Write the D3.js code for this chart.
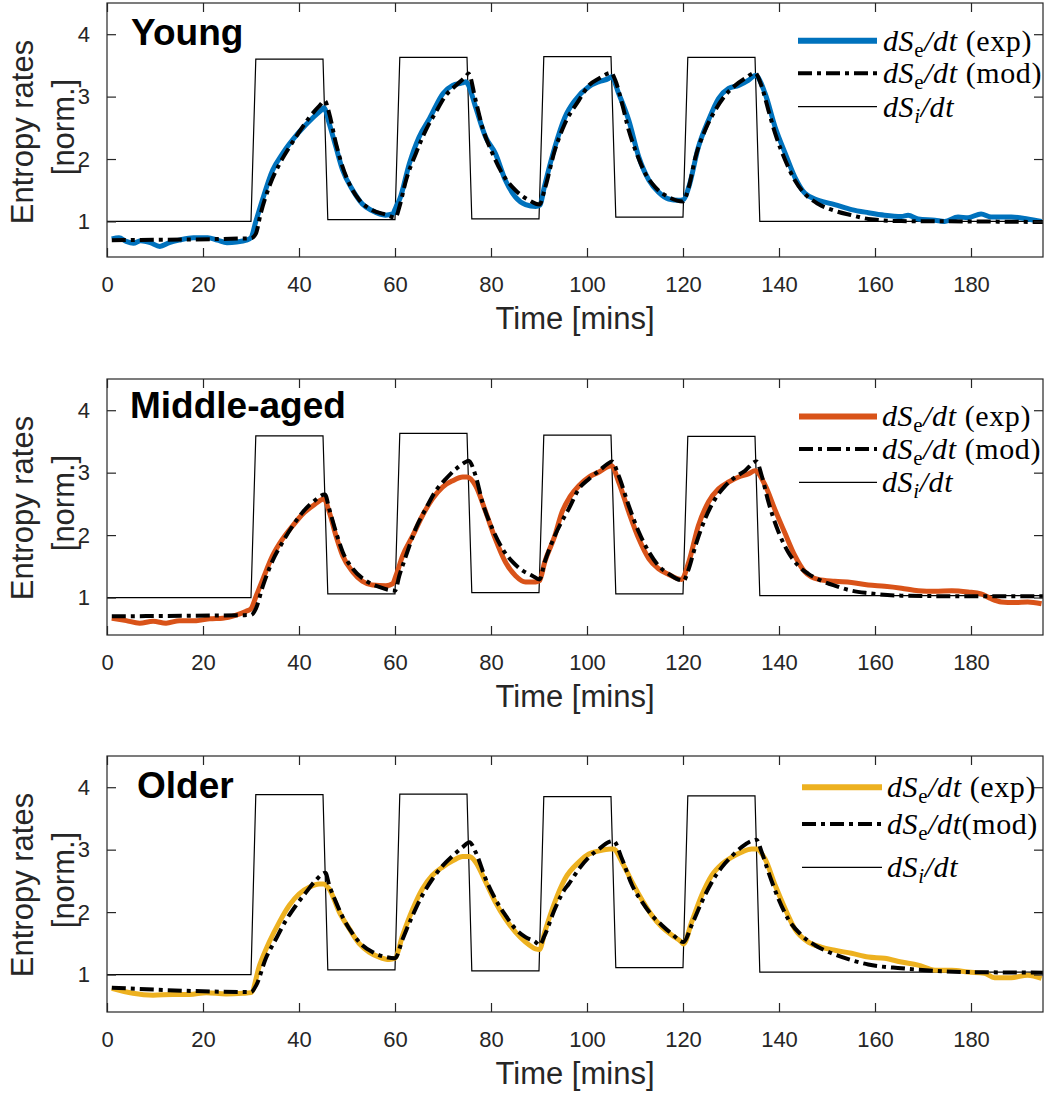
<!DOCTYPE html>
<html><head><meta charset="utf-8">
<script src="https://cdn.jsdelivr.net/npm/d3@7"></script>
<style>body{margin:0;background:#fff}</style>
</head><body><svg id="c" width="1044" height="1093"></svg>
<script>
// ---------- data ----------
const panelNames = ["Young", "Middle-aged", "Older"];
const xTicks = [0, 20, 40, 60, 80, 100, 120, 140, 160, 180];
const yTicks = [1, 2, 3, 4];
const expColors = ["#0072BD", "#D95319", "#EDB120"];
const legendLabels = [[" (exp)", " (mod)"], [" (exp)", " (mod)"], [" (exp)", "(mod)"]];

const stepT = [0, 30, 31, 45, 46, 60, 61, 75, 76, 90, 91, 105, 106, 120, 121, 135, 136, 195];
const youngStep  = [1, 1, 3.6, 3.6, 1.03, 1.03, 3.63, 3.63, 1.04, 1.04, 3.64, 3.64, 1.07, 1.07, 3.63, 3.63, 1.0, 1.0];
const middleStep = [1, 1, 3.59, 3.59, 1.06, 1.06, 3.63, 3.63, 1.08, 1.08, 3.60, 3.60, 1.06, 1.06, 3.58, 3.58, 1.03, 1.03];
const olderStep  = [1, 1, 3.88, 3.88, 1.075, 1.075, 3.89, 3.89, 1.06, 1.06, 3.85, 3.85, 1.11, 1.11, 3.86, 3.86, 1.04, 1.04];

const youngExpT = [1,2.5,4,5.5,7,9,11,13,15,18,21,23,25,27,29,30,31,32,34.5,36.6,40,43,44.6,45.2,46.3,47.7,49.1,51.2,53.2,55.3,58,59.5,60.2,61,63,65,67.2,70,72,74,74.8,75.2,76.8,78.9,80.9,83,85.1,87.2,89.3,90.2,91.1,93.3,95.4,97.5,100.4,102.5,104.5,105.1,106.6,108.7,110.8,112.9,114.9,117,119.1,120.1,121.2,123.2,125.3,127.4,129.5,131.6,133.6,135.1,137.1,139.2,141.3,143.3,145.4,148.2,151.6,155.1,158.6,162,165.5,166.9,169,172.5,174.5,177.3,179.4,182.1,184.2,188.4,191.8,194.7];
const youngExpV = [0.72,0.74,0.68,0.65,0.69,0.66,0.60,0.66,0.70,0.74,0.74,0.70,0.66,0.67,0.70,0.74,1.0,1.25,1.82,2.09,2.43,2.67,2.78,2.82,2.57,2.19,1.82,1.50,1.28,1.17,1.10,1.12,1.23,1.36,1.93,2.35,2.65,3.05,3.18,3.22,3.24,3.20,2.83,2.35,2.09,1.66,1.39,1.27,1.24,1.26,1.55,2.19,2.67,2.94,3.16,3.24,3.29,3.32,3.05,2.62,2.03,1.66,1.47,1.36,1.34,1.35,1.55,2.19,2.62,2.97,3.13,3.18,3.26,3.34,3.05,2.51,2.09,1.71,1.45,1.34,1.27,1.19,1.14,1.10,1.08,1.10,1.04,1.02,1.0,1.07,1.06,1.12,1.07,1.07,1.04,1.0];
const youngModT = [1,30,31,32,34,36,38,40,42,44,45.4,46.3,47.7,49.1,50.5,52.6,55.3,58.1,60.1,60.9,62.3,64.35,66.4,68.5,70.6,72.7,74.7,75.3,76.8,78.2,80.3,82.4,85.1,87.9,90.1,91.2,93.3,95.4,98.3,100.4,102.5,105,105.9,107.3,108.7,110.1,112.2,114.2,117,120,121.2,122.6,124.6,126.7,128.8,130.9,132.9,135,136.4,137.8,139.2,141.3,143.3,145.4,148.2,151.6,155.1,158.6,165.5,180,195];
const youngModV = [0.70,0.73,0.80,1.12,1.6,1.93,2.19,2.43,2.65,2.83,2.93,2.73,2.25,1.87,1.60,1.34,1.18,1.11,1.06,1.23,1.66,2.09,2.46,2.75,3.02,3.18,3.32,3.37,2.94,2.51,2.09,1.76,1.50,1.34,1.27,1.52,2.14,2.57,2.94,3.18,3.29,3.38,3.26,2.89,2.46,2.14,1.76,1.55,1.39,1.32,1.55,2.03,2.46,2.78,3.02,3.18,3.29,3.38,3.16,2.78,2.41,1.98,1.66,1.44,1.28,1.17,1.10,1.04,1.005,1.0,0.99];

const middleExpT = [1,4,6.8,9.6,12.3,15.1,18.6,21.4,24.1,26.9,29,30,31.1,32.5,34.5,36.6,38.7,40.8,42.9,45.2,46.3,47.7,49.1,51.2,53.2,55.3,58.1,59.5,60.2,61.6,63.7,65.7,67.8,69.9,72,74.1,75,76.8,78.9,80.9,83,85.1,87.2,89.3,90.1,91.2,93.3,94.7,96.5,98.3,100.4,102.5,104.5,105.1,106.6,108.7,110.8,112.9,114.9,117,119.7,121.2,123.2,125.3,127.4,129.5,131.6,133.6,135,137.1,139.2,141.3,143.3,145.4,148.2,151.6,155.1,158.6,162,165.5,169,172.5,176,179.4,182.1,184.2,186.3,189.1,191.8,194.7];
const middleExpV = [0.67,0.63,0.59,0.62,0.59,0.63,0.63,0.66,0.67,0.72,0.78,0.82,1.03,1.30,1.67,1.94,2.15,2.34,2.47,2.58,2.37,1.99,1.67,1.41,1.26,1.20,1.19,1.22,1.35,1.67,1.99,2.31,2.58,2.77,2.87,2.93,2.93,2.79,2.37,1.94,1.57,1.35,1.25,1.25,1.27,1.57,1.99,2.35,2.62,2.79,2.93,3.01,3.10,3.11,2.85,2.37,1.94,1.62,1.46,1.37,1.29,1.57,2.15,2.53,2.74,2.85,2.93,2.98,3.03,2.80,2.40,2.02,1.67,1.41,1.29,1.26,1.24,1.20,1.18,1.15,1.11,1.10,1.11,1.09,1.06,0.98,0.93,0.92,0.93,0.90];
const middleModT = [1,30,31,32.5,34.5,36.6,38.7,40.8,42.9,45.4,46.3,47.7,49.1,51.2,53.9,56.7,60,60.9,62.3,64.3,66.4,68.5,70.6,72.7,74.7,75.3,76.8,78.2,80.3,82.4,84.5,86.6,88.6,90.1,91.2,93.3,95.4,96.2,98.3,100.4,102.5,104.9,105.2,106.6,108.7,110.8,112.9,114.9,117,120.1,121.2,122.6,124.6,126.7,128.8,130.9,132.9,135.3,136.4,137.8,139.9,141.9,144,146.1,148.8,151.6,155.1,158.6,165.5,179.4,195];
const middleModV = [0.70,0.72,0.82,1.19,1.59,1.89,2.15,2.37,2.53,2.65,2.42,2.05,1.73,1.46,1.27,1.17,1.11,1.35,1.67,2.10,2.42,2.71,2.90,3.06,3.17,3.19,2.95,2.53,2.10,1.78,1.57,1.43,1.35,1.29,1.57,1.99,2.31,2.42,2.74,2.90,3.03,3.17,3.18,2.95,2.47,2.05,1.73,1.51,1.38,1.27,1.46,1.83,2.26,2.58,2.79,2.93,3.03,3.18,2.95,2.53,2.05,1.73,1.51,1.38,1.27,1.19,1.11,1.07,1.03,1.02,1.02];

const olderExpT = [1,5.4,9.6,13.7,17.2,20.7,24.8,28.3,30,31.8,33.8,35.9,38,40,42.2,44.2,45.1,46.3,48.4,50.5,52.6,54.6,56.7,58.8,60,61.6,63.7,65.7,67.8,69.9,72,74.1,75.5,76.8,78.9,80.9,83,85.1,87.2,89.3,90.1,91.2,93.3,95.4,98.3,100.4,102.5,104.9,105.5,107.3,109.4,111.5,113.5,115.6,117.7,119.7,120.1,121.8,123.9,126,128.1,130.2,132.2,134.3,135.3,137.1,139.2,141.3,143.3,146.1,148.8,151.6,155.1,158.6,162,165.5,169,172.5,176,179.4,182.8,184.9,188.4,191.8,194.7];
const olderExpV = [0.78,0.70,0.67,0.68,0.68,0.71,0.69,0.70,0.71,1.15,1.52,1.84,2.11,2.29,2.40,2.45,2.45,2.37,2.00,1.73,1.49,1.36,1.28,1.24,1.26,1.63,2.05,2.37,2.59,2.72,2.82,2.89,2.89,2.80,2.48,2.16,1.89,1.68,1.52,1.41,1.40,1.68,2.16,2.53,2.80,2.93,2.98,3.01,3.01,2.80,2.48,2.19,1.95,1.76,1.63,1.52,1.49,1.84,2.27,2.59,2.77,2.88,2.96,3.01,3.01,2.85,2.43,2.05,1.73,1.52,1.44,1.39,1.34,1.28,1.26,1.20,1.15,1.07,1.07,1.04,1.02,0.95,0.95,0.99,0.94];
const olderModT = [1,30,31.1,33.1,35.2,37.3,39.4,41.5,43.5,45.5,46.3,47.7,49.1,51.2,53.2,55.3,58.1,60,61.6,63.7,65.7,67.8,69.9,72,74.1,75.5,76.8,78.9,80.9,83,85.1,87.2,89.3,90.1,91.2,93.3,95.4,96.2,98.3,100.4,102.5,104.5,105.5,107.3,109.4,111.5,113.5,115.6,117.7,120.1,121.8,123.9,126,128.1,130.2,132.2,134.3,135.3,136.4,137.8,139.9,141.9,144.7,147.5,151,155.1,158.6,165.5,172.5,179.4,195];
const olderModV = [0.79,0.72,0.83,1.26,1.57,1.87,2.11,2.32,2.51,2.63,2.43,2.16,1.92,1.65,1.47,1.36,1.28,1.26,1.57,1.95,2.27,2.53,2.74,2.90,3.04,3.12,2.96,2.53,2.21,1.95,1.73,1.60,1.52,1.47,1.63,2.05,2.37,2.45,2.69,2.88,3.01,3.12,3.14,2.85,2.43,2.16,1.95,1.79,1.65,1.52,1.79,2.16,2.48,2.72,2.90,3.04,3.14,3.16,2.96,2.64,2.21,1.89,1.63,1.47,1.34,1.23,1.16,1.10,1.06,1.04,1.03];

const stepSeries = [youngStep, middleStep, olderStep];
const expSeries = [[youngExpT, youngExpV], [middleExpT, middleExpV], [olderExpT, olderExpV]];
const modSeries = [[youngModT, youngModV], [middleModT, middleModV], [olderModT, olderModV]];

// ---------- layout ----------
const W = 1044;
const left = 107, right = 1043;
const tops = [3, 379, 756];
const heights = [254, 256, 256];
const yMins = [0.43, 0.4, 0.4];
const yMax = 4.5;
const xMax = 195;
const titleX = [131, 130, 137];
const titleDY = [42, 38.5, 41.5];
const legRows = [[37.7, 70.3, 103.7], [37.4, 70, 103.4], [31.3, 68, 111.3]];
const legLine = [[798, 877], [799, 877], [802, 882]];
const legTextX = [883, 882, 887];
const axisCol = "#262626";
const dashPattern = "14,5,4,5";
const sans = '"Liberation Sans", Arial, Helvetica, sans-serif';
const serif = '"Liberation Serif", "Times New Roman", serif';

const svg = d3.select("#c");
svg.append("rect").attr("width", W).attr("height", 1093).attr("fill", "#fff");

const x = d3.scaleLinear().domain([0, xMax]).range([left, right]);

panelNames.forEach((name, p) => {
  const top = tops[p], h = heights[p], bottom = top + h;
  const y = d3.scaleLinear().domain([yMins[p], yMax]).range([bottom, top]);
  const g = svg.append("g");
  const clipId = "clip" + p;
  svg.append("clipPath").attr("id", clipId).append("rect")
    .attr("x", left).attr("y", top).attr("width", right - left).attr("height", h);

  const plot = g.append("g").attr("clip-path", `url(#${clipId})`);
  const lineStep = d3.line().x(d => x(d[0])).y(d => y(d[1]));
  const lineSmooth = d3.line().x(d => x(d[0])).y(d => y(d[1])).curve(d3.curveMonotoneX);

  plot.append("path").datum(stepT.map((t, i) => [t, stepSeries[p][i]]))
    .attr("d", lineStep).attr("fill", "none").attr("stroke", "#000").attr("stroke-width", 1.2);
  plot.append("path").datum(expSeries[p][0].map((t, i) => [t, expSeries[p][1][i]]))
    .attr("d", lineSmooth).attr("fill", "none").attr("stroke", expColors[p]).attr("stroke-width", 5)
    .attr("stroke-linejoin", "round");
  plot.append("path").datum(modSeries[p][0].map((t, i) => [t, modSeries[p][1][i]]))
    .attr("d", lineSmooth).attr("fill", "none").attr("stroke", "#000").attr("stroke-width", 4)
    .attr("stroke-dasharray", dashPattern);

  // frame
  g.append("rect").attr("x", left).attr("y", top).attr("width", right - left).attr("height", h)
    .attr("fill", "none").attr("stroke", axisCol).attr("stroke-width", 1.2);

  const xAxisB = d3.axisBottom(x).tickValues(xTicks).tickSizeInner(-9).tickSizeOuter(0).tickPadding(19).tickFormat(d3.format("d"));
  const gx = g.append("g").attr("transform", `translate(0,${bottom})`).call(xAxisB);
  gx.select(".domain").remove();
  gx.selectAll("line").attr("stroke", axisCol).attr("stroke-width", 1.2);
  gx.selectAll("text").attr("font-family", sans).attr("font-size", 22).attr("fill", axisCol);

  const gxt = g.append("g").attr("transform", `translate(0,${top})`)
    .call(d3.axisTop(x).tickValues(xTicks).tickSizeInner(-9).tickSizeOuter(0).tickFormat(""));
  gxt.select(".domain").remove();
  gxt.selectAll("line").attr("stroke", axisCol).attr("stroke-width", 1.2);

  const gy = g.append("g").attr("transform", `translate(${left},0)`)
    .call(d3.axisLeft(y).tickValues(yTicks).tickSizeInner(-9).tickSizeOuter(0).tickPadding(17).tickFormat(d3.format("d")));
  gy.select(".domain").remove();
  gy.selectAll("line").attr("stroke", axisCol).attr("stroke-width", 1.2);
  gy.selectAll("text").attr("font-family", sans).attr("font-size", 22).attr("fill", axisCol);

  const gyr = g.append("g").attr("transform", `translate(${right},0)`)
    .call(d3.axisRight(y).tickValues(yTicks).tickSizeInner(-9).tickSizeOuter(0).tickFormat(""));
  gyr.select(".domain").remove();
  gyr.selectAll("line").attr("stroke", axisCol).attr("stroke-width", 1.2);

  // axis labels
  g.append("text").attr("x", (left + right) / 2).attr("y", bottom + 72)
    .attr("text-anchor", "middle").attr("font-family", sans).attr("font-size", 31).attr("fill", axisCol)
    .text("Time [mins]");
  g.append("text").attr("transform", `translate(33,${top + 129}) rotate(-90)`)
    .attr("text-anchor", "middle").attr("font-family", sans).attr("font-size", 31).attr("fill", axisCol)
    .text("Entropy rates");
  g.append("text").attr("transform", `translate(74,${top + 124}) rotate(-90)`)
    .attr("text-anchor", "middle").attr("font-family", sans).attr("font-size", 31).attr("fill", axisCol)
    .text("[norm.]");

  // title
  g.append("text").attr("x", titleX[p]).attr("y", top + titleDY[p])
    .attr("font-family", sans).attr("font-weight", "bold").attr("font-size", 37).attr("fill", "#000")
    .text(name);

  // legend
  const lg = g.append("g");
  const rows = legRows[p];
  const styles = [
    { stroke: expColors[p], w: 6, dash: null },
    { stroke: "#000", w: 4, dash: dashPattern },
    { stroke: "#000", w: 1.2, dash: null }
  ];
  rows.forEach((ry, i) => {
    const yy = top + ry;
    const ln = lg.append("line").attr("x1", legLine[p][0]).attr("x2", legLine[p][1])
      .attr("y1", yy).attr("y2", yy).attr("stroke", styles[i].stroke).attr("stroke-width", styles[i].w);
    if (styles[i].dash) ln.attr("stroke-dasharray", styles[i].dash);
    const t = lg.append("text").attr("x", legTextX[p]).attr("y", yy + 10)
      .attr("font-family", serif).attr("font-size", 30).attr("letter-spacing", 0.6).attr("fill", "#000");
    t.append("tspan").attr("font-style", "italic").text("dS");
    t.append("tspan").attr("font-size", 21).attr("dy", 6)
      .attr("font-style", i === 2 ? "italic" : "normal").text(i === 2 ? "i" : "e");
    t.append("tspan").attr("dy", -6).attr("font-style", "italic").text("/dt");
    if (i < 2) t.append("tspan").attr("font-style", "normal").text(legendLabels[p][i]);
  });
});
</script></body></html>
